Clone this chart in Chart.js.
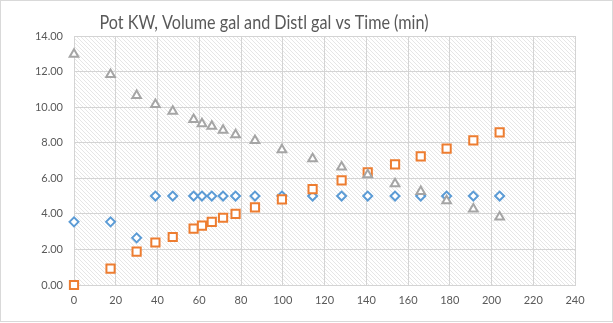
<!DOCTYPE html>
<html>
<head>
<meta charset="utf-8">
<script src="https://cdn.jsdelivr.net/npm/chart.js@4/dist/chart.umd.min.js"></script>
<style>
  body { margin: 0; background: #fff; }
  canvas { display: block; }
</style>
</head>
<body>
<canvas id="chart" width="613" height="323"></canvas>
<script>
const ctx = document.getElementById('chart');

// values
const timeMin   = [0, 17.5, 30, 39, 47.3, 57.3, 61.3, 66, 71.4, 77.4, 86.7, 99.6, 114.3, 128.2, 140.7, 153.8, 166.1, 178.5, 191.3, 203.9];
const potKW     = [3.55, 3.55, 2.65, 5, 5, 5, 5, 5, 5, 5, 5, 5, 5, 5, 5, 5, 5, 5, 5, 5];
const distlGal  = [0, 0.92, 1.88, 2.39, 2.7, 3.17, 3.34, 3.55, 3.78, 4.0, 4.36, 4.81, 5.39, 5.88, 6.33, 6.78, 7.23, 7.67, 8.13, 8.58];
const volumeGal = [12.97, 11.84, 10.65, 10.15, 9.77, 9.3, 9.07, 8.92, 8.7, 8.45, 8.13, 7.61, 7.1, 6.63, 6.2, 5.69, 5.26, 4.73, 4.27, 3.82];
const xTicks = [0, 20, 40, 60, 80, 100, 120, 140, 160, 180, 200, 220, 240];
const yTicks = [0, 2, 4, 6, 8, 10, 12, 14];
const titleText = 'Pot KW, Volume gal and Distl gal vs Time (min)';

function points(ys) {
    let out = [];
    for (let i = 0; i < timeMin.length; i++) {
        out.push({x: timeMin[i], y: ys[i]});
    }
    return out;
}

// diagonal hatch like the excel plot area
const tile = document.createElement('canvas');
tile.width = 4;
tile.height = 4;
const tctx = tile.getContext('2d');
tctx.fillStyle = '#fff';
tctx.fillRect(0, 0, 4, 4);
tctx.fillStyle = '#e6e6e6';
for (let i = 0; i < 4; i++) tctx.fillRect(i, i, 1, 1);

const backdrop = {
    id: 'backdrop',
    beforeDraw(chart) {
        const c = chart.ctx, a = chart.chartArea;
        c.save();
        c.fillStyle = '#fff';
        c.fillRect(0, 0, chart.width, chart.height);
        c.fillStyle = c.createPattern(tile, 'repeat');
        c.fillRect(a.left, a.top, a.right - a.left, a.bottom - a.top);
        c.restore();
    },
    afterDraw(chart) {
        const c = chart.ctx;
        c.save();
        c.strokeStyle = '#d9d9d9';
        c.lineWidth = 1;
        c.strokeRect(0.5, 0.5, 612, 321);
        // calibri-like width: squeeze the title to the reference span
        c.fillStyle = '#595959';
        c.font = '19px Lato';
        c.textAlign = 'center';
        c.textBaseline = 'alphabetic';
        const w = c.measureText(titleText).width;
        c.translate(264, 29);
        c.scale(329 / w, 1);
        c.fillText(titleText, 0, 0);
        c.restore();
    }
};

const tickFont = {family: 'Lato', size: 11};

new Chart(ctx, {
    type: 'scatter',
    data: {
        datasets: [{
            label: 'Pot KW',
            data: points(potKW),
            pointStyle: 'rectRot',
            pointRadius: 4.5,
            borderColor: '#5b9bd5',
            backgroundColor: '#fff',
            borderWidth: 2,
            clip: false,
            order: 2
        }, {
            label: 'Distl gal',
            data: points(distlGal),
            pointStyle: 'rect',
            pointRadius: 5.8,
            borderColor: '#ed7d31',
            backgroundColor: '#fff',
            borderWidth: 2,
            clip: false,
            order: 1
        }, {
            label: 'Volume gal',
            data: points(volumeGal),
            pointStyle: 'triangle',
            pointRadius: 5,
            borderColor: '#a5a5a5',
            backgroundColor: '#fff',
            borderWidth: 2,
            clip: false,
            order: 0
        }]
    },
    options: {
        responsive: false,
        animation: false,
        layout: {padding: {left: 0, right: 38, top: 36, bottom: 0}},
        plugins: {
            legend: {display: false},
            title: {display: false},
            tooltip: {enabled: false}
        },
        elements: {point: {hoverRadius: 5}},
        scales: {
            x: {
                type: 'linear',
                min: 0,
                max: 240,
                afterBuildTicks(axis) { axis.ticks = xTicks.map(v => ({value: v})); },
                afterFit(axis) { axis.height = 38; },
                grid: {color: '#d4d4d4', drawTicks: false},
                border: {color: '#d4d4d4'},
                ticks: {color: '#595959', font: tickFont, padding: 9, maxRotation: 0}
            },
            y: {
                min: 0,
                max: 14,
                afterBuildTicks(axis) { axis.ticks = yTicks.map(v => ({value: v})); },
                afterFit(axis) { axis.width = 74; },
                grid: {color: '#d4d4d4', drawTicks: false},
                border: {color: '#d4d4d4'},
                ticks: {
                    color: '#595959',
                    font: tickFont,
                    padding: 11,
                    callback: v => v.toFixed(2)
                }
            }
        }
    },
    plugins: [backdrop]
});
</script>
</body>
</html>
